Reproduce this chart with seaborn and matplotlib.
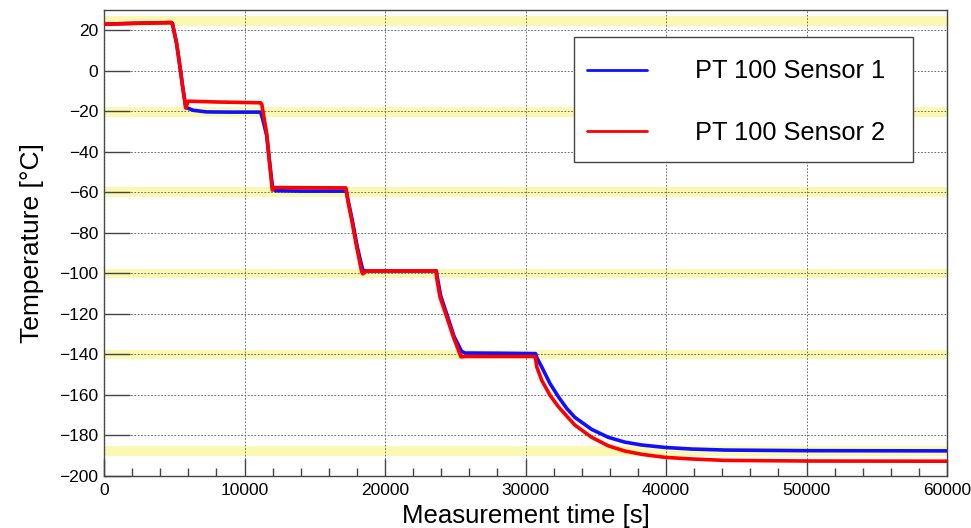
import matplotlib
matplotlib.use("Agg")
import matplotlib.pyplot as plt
import matplotlib.patches as mpatches
import seaborn as sns
import pandas as pd
from matplotlib.ticker import MultipleLocator

# ---- data ----
t_s1 = [0, 2500, 4800, 4870, 5170, 5410, 5600, 5830, 6350, 7300, 9000, 11150,
        11300, 11580, 11820, 12000, 12200, 14000, 17240,
        17420, 17670, 18030, 18420, 18700, 21000, 23660,
        23700, 23960, 24440, 24910, 25450, 25700, 28000, 30720,
        30800, 31150, 31740, 32340, 32930, 33520, 34710, 35890, 37080, 38270,
        39930, 41830, 44200, 50000, 60000]
temp_s1 = [23.0, 23.5, 23.8, 23.3, 13.4, 1.9, -8.0, -18.1, -19.5, -20.3, -20.4, -20.4,
           -24.0, -32.0, -47.0, -57.8, -59.2, -59.4, -59.4,
           -65.5, -73.7, -87.0, -98.5, -98.8, -98.8, -98.8,
           -101.0, -111.0, -121.0, -131.0, -138.5, -139.3, -139.4, -139.6,
           -141.5, -146.1, -154.3, -160.9, -166.6, -171.1, -177.0, -180.9, -183.3, -184.7,
           -185.9, -186.7, -187.2, -187.5, -187.6]

t_s2 = [0, 2500, 4800, 4870, 5170, 5410, 5600, 5815, 5990, 8000, 11150,
        11230, 11580, 11810, 11980, 12170, 14000, 17220,
        17390, 17630, 17980, 18340, 18420, 18700, 23630,
        23670, 23910, 24390, 24860, 25410, 25700, 30550, 30700,
        30800, 31150, 31740, 32340, 32930, 33520, 34710, 35890, 37080, 38270,
        39930, 41830, 44200, 50000, 60000]
temp_s2 = [23.0, 23.5, 23.8, 23.3, 13.4, 1.9, -8.0, -18.4, -15.0, -15.4, -15.8,
           -16.5, -31.0, -47.4, -58.9, -57.6, -57.7, -57.8,
           -65.5, -73.7, -86.9, -99.2, -100.2, -98.8, -98.8,
           -101.7, -111.6, -121.4, -131.3, -141.2, -141.0, -141.0, -141.2,
           -146.1, -152.7, -160.1, -165.8, -170.4, -174.9, -180.9, -185.1, -187.7, -189.3,
           -190.8, -191.6, -192.3, -192.6, -192.7]

band_centers = [24.5, -20.5, -60.0, -100.0, -140.0, -187.5]
band_halfwidth = 2.4

labels = ["PT 100 Sensor 1", "PT 100 Sensor 2"]
colors = ["#1010ff", "#ff0000"]

# ---- build figure ----
sns.set_theme(style="white")
plt.rcParams["font.family"] = ["Liberation Sans", "DejaVu Sans"]
plt.rcParams["text.color"] = "black"
plt.rcParams["axes.labelcolor"] = "black"
plt.rcParams["xtick.color"] = "black"
plt.rcParams["ytick.color"] = "black"

fig = plt.figure(figsize=(9.71, 5.28), dpi=100)
ax = fig.add_axes([104 / 971, 1 - 476 / 528, 843 / 971, 466 / 528])

for c in band_centers:
    ax.axhspan(c - band_halfwidth, c + band_halfwidth, color="#fbf8b4", lw=0, zorder=0)

df1 = pd.DataFrame({"t": t_s1, "T": temp_s1})
df2 = pd.DataFrame({"t": t_s2, "T": temp_s2})
sns.lineplot(data=df1, x="t", y="T", ax=ax, color=colors[0], lw=2.6,
             estimator=None, sort=False, label=labels[0], zorder=3)
sns.lineplot(data=df2, x="t", y="T", ax=ax, color=colors[1], lw=2.6,
             estimator=None, sort=False, label=labels[1], zorder=4)

ax.set_xlim(0, 60000)
ax.set_ylim(-200, 30)
ax.xaxis.set_major_locator(MultipleLocator(10000))
ax.xaxis.set_minor_locator(MultipleLocator(2000))
ax.yaxis.set_major_locator(MultipleLocator(20))

ax.grid(True, which="major", color="#555555", lw=0.6, ls=(0, (2, 2)), zorder=1)
ax.set_axisbelow(False)

ax.tick_params(axis="x", which="major", direction="in", length=12, width=1,
               color="#444444", labelcolor="black", labelsize=12.5, pad=5,
               bottom=True, top=False)
ax.tick_params(axis="x", which="minor", direction="in", length=6, width=1,
               color="#444444", bottom=True, top=False)
ax.tick_params(axis="y", which="major", direction="in", length=19, width=1,
               color="#444444", labelcolor="black", labelsize=12.5, pad=4,
               left=True, right=False)
for sp in ax.spines.values():
    sp.set_color("#444444")
    sp.set_linewidth(1.0)

ax.set_xlabel("Measurement time [s]", fontsize=18.5, labelpad=4)
ax.set_ylabel("Temperature [°C]", fontsize=19, labelpad=11)

# legend frame + entries
frame = mpatches.Rectangle((0.5575, 0.674), 0.4022, 0.268, transform=ax.transAxes,
                           facecolor="white", edgecolor="#444444", lw=1.0, zorder=5)
ax.add_patch(frame)
leg = ax.legend(loc="upper left", bbox_to_anchor=(0.573, 0.894),
                fontsize=18.3, handlelength=2.36, handletextpad=1.89,
                borderpad=0, labelspacing=1.49, frameon=False, borderaxespad=0)
leg.set_zorder(6)
for line in leg.get_lines():
    line.set_linewidth(2.0)

fig.savefig("out.png", dpi=100)
